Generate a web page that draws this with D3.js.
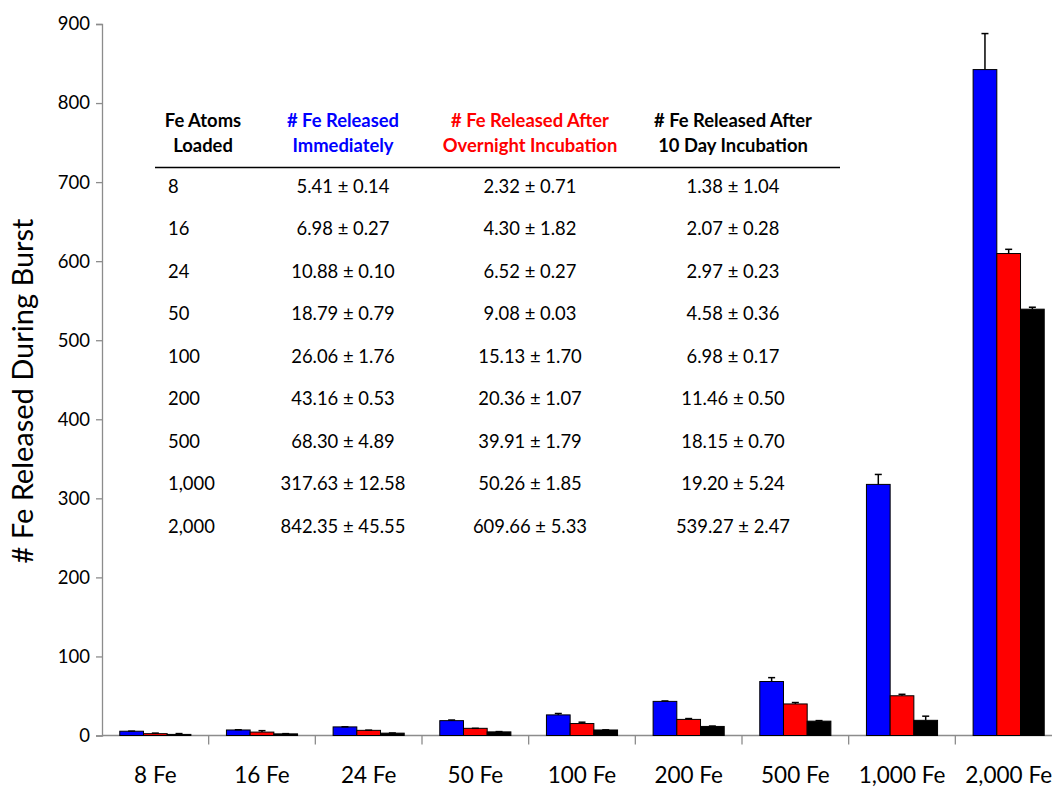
<!DOCTYPE html>
<html>
<head>
<meta charset="utf-8">
<script src="https://cdnjs.cloudflare.com/ajax/libs/d3/7.8.5/d3.min.js"></script>
<style>
	body { margin: 0; background: #fff; }
	svg { display: block; font-family: Lato, "Open Sans", sans-serif; }
</style>
</head>
<body>
<svg id="chart" width="1052" height="790"></svg>
<script>
var categories = ['8 Fe', '16 Fe', '24 Fe', '50 Fe', '100 Fe', '200 Fe', '500 Fe', '1,000 Fe', '2,000 Fe'];
var loaded = ['8', '16', '24', '50', '100', '200', '500', '1,000', '2,000'];
var seriesNames = ['immediate', 'overnight', 'tenDay'];
var seriesColors = ['#0000ff', '#ff0000', '#000000'];

var immediate = [5.41, 6.98, 10.88, 18.79, 26.06, 43.16, 68.30, 317.63, 842.35];
var immediateErr = [0.14, 0.27, 0.10, 0.79, 1.76, 0.53, 4.89, 12.58, 45.55];
var overnight = [2.32, 4.30, 6.52, 9.08, 15.13, 20.36, 39.91, 50.26, 609.66];
var overnightErr = [0.71, 1.82, 0.27, 0.03, 1.70, 1.07, 1.79, 1.85, 5.33];
var tenDay = [1.38, 2.07, 2.97, 4.58, 6.98, 11.46, 18.15, 19.20, 539.27];
var tenDayErr = [1.04, 0.28, 0.23, 0.36, 0.17, 0.50, 0.70, 5.24, 2.47];

var yTicks = [0, 100, 200, 300, 400, 500, 600, 700, 800, 900];

var values = [immediate, overnight, tenDay];
var errors = [immediateErr, overnightErr, tenDayErr];

var svg = d3.select('#chart');

var x = d3.scaleBand().domain(categories).range([102, 1062]).paddingInner(0).paddingOuter(0);
var y = d3.scaleLinear().domain([0, 900]).range([735.5, 24]);

var barWidth = x.bandwidth() / 4.5;
var groupOffset = (x.bandwidth() - barWidth * 3) / 2;

// axes
var yAxis = svg.append('g')
	.attr('transform', 'translate(102,0)')
	.call(d3.axisLeft(y).tickValues(yTicks).tickSize(6).tickPadding(6));
yAxis.select('.domain').attr('stroke', '#8c8c8c').attr('stroke-width', 1.3);
yAxis.selectAll('.tick line').attr('stroke', '#8c8c8c').attr('stroke-width', 1.3);
yAxis.selectAll('.tick text')
	.attr('font-size', 18.5)
	.attr('fill', '#000')
	.attr('font-family', 'Lato, sans-serif');

var xAxis = svg.append('g')
	.attr('transform', 'translate(0,' + y(0) + ')');
xAxis.append('line')
	.attr('x1', 102).attr('x2', 1062)
	.attr('stroke', '#8c8c8c').attr('stroke-width', 1.3);
xAxis.selectAll('line.tick')
	.data(categories.slice(1))
	.enter()
		.append('line')
			.attr('class', 'tick')
			.attr('x1', function(d) { return x(d); })
			.attr('x2', function(d) { return x(d); })
			.attr('y1', 0)
			.attr('y2', 9)
			.attr('stroke', '#8c8c8c').attr('stroke-width', 1.3);
xAxis.selectAll('text')
	.data(categories)
	.enter()
		.append('text')
			.attr('x', function(d) { return x(d) + x.bandwidth() / 2; })
			.attr('y', 47)
			.attr('text-anchor', 'middle')
			.attr('font-size', 22.5)
			.text(function(d) { return d; });

svg.append('text')
	.attr('transform', 'translate(33,391) rotate(-90)')
	.attr('text-anchor', 'middle')
	.attr('font-size', 29)
	.text('# Fe Released During Burst');

// bars
var bars = svg.append('g');
seriesNames.forEach(function(name, s) {
	var g = bars.append('g').attr('class', name);
	g.selectAll('rect')
		.data(values[s])
		.enter()
			.append('rect')
				.attr('x', function(d, i) { return x(categories[i]) + groupOffset + s * barWidth; })
				.attr('y', function(d) { return y(d); })
				.attr('width', barWidth)
				.attr('height', function(d) { return y(0) - y(d); })
				.attr('fill', seriesColors[s])
				.attr('stroke', '#000')
				.attr('stroke-width', 1);

	// error bars, upward only
	var eb = g.selectAll('g.err')
		.data(values[s])
		.enter()
			.append('g')
				.attr('class', 'err');
	eb.append('line')
		.attr('x1', function(d, i) { return x(categories[i]) + groupOffset + (s + 0.5) * barWidth; })
		.attr('x2', function(d, i) { return x(categories[i]) + groupOffset + (s + 0.5) * barWidth; })
		.attr('y1', function(d) { return y(d); })
		.attr('y2', function(d, i) { return y(d + errors[s][i]); })
		.attr('stroke', '#000').attr('stroke-width', 1.5);
	eb.append('line')
		.attr('x1', function(d, i) { return x(categories[i]) + groupOffset + (s + 0.5) * barWidth - 3.5; })
		.attr('x2', function(d, i) { return x(categories[i]) + groupOffset + (s + 0.5) * barWidth + 3.5; })
		.attr('y1', function(d, i) { return y(d + errors[s][i]); })
		.attr('y2', function(d, i) { return y(d + errors[s][i]); })
		.attr('stroke', '#000').attr('stroke-width', 1.5);
});

// table inside plot
var table = svg.append('g').attr('font-size', 18.4);
var colX = [203, 343, 530, 733];
var headers = [
	['Fe Atoms', 'Loaded'],
	['# Fe Released', 'Immediately'],
	['# Fe Released After', 'Overnight Incubation'],
	['# Fe Released After', '10 Day Incubation']
];
var headerColors = ['#000', '#0000ff', '#ff0000', '#000'];

headers.forEach(function(h, c) {
	h.forEach(function(line, j) {
		table.append('text')
			.attr('x', colX[c])
			.attr('y', 127 + j * 25)
			.attr('text-anchor', 'middle')
			.attr('font-weight', 'bold')
			.attr('fill', headerColors[c])
			.text(line);
	});
});

table.append('line')
	.attr('x1', 155).attr('x2', 840)
	.attr('y1', 167.5).attr('y2', 167.5)
	.attr('stroke', '#000').attr('stroke-width', 1.3);

var fmt = d3.format('.2f');
loaded.forEach(function(l, i) {
	var ty = 192.5 + i * 42.5;
	table.append('text')
		.attr('x', 168)
		.attr('y', ty)
		.text(l);
	for (var s = 0; s < 3; s++) {
		table.append('text')
			.attr('x', colX[s + 1])
			.attr('y', ty)
			.attr('text-anchor', 'middle')
			.text(fmt(values[s][i]) + ' \u00b1 ' + fmt(errors[s][i]));
	}
});
</script>
</body>
</html>
